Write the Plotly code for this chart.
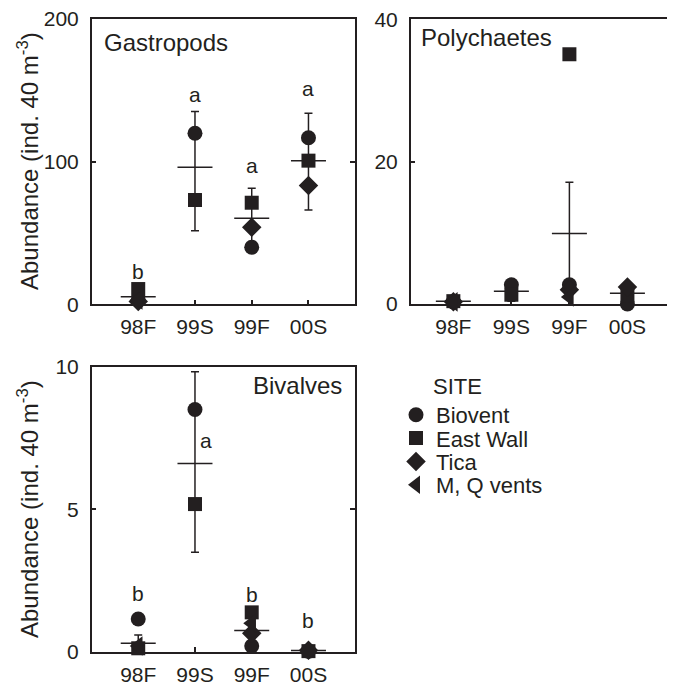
import plotly.graph_objects as go

# ---------------- data ----------------
categories = ["98F", "99S", "99F", "00S"]
sites = ["Biovent", "East Wall", "Tica", "M, Q vents"]
symbols = ["circle", "square", "diamond", "triangle-left"]
sizes = [15, 14, 15, 17]

# Gastropods
gas_biovent = [3, 119.9, 40, 116.8]
gas_eastwall = [10.7, 73.1, 71.2, 100.7]
gas_tica = [2, None, 54, 83.2]
gas_mq = [3, None, None, None]
gas_mean = [5.3, 96.1, 60.3, 100.7]
gas_err_plus = [0, 39, 21, 33.2]
gas_err_minus = [0, 44.5, 21, 34.6]
gas_letters = ["b", "a", "a", "a"]
gas_letter_y = [23, 147, 97, 151.5]

# Polychaetes
pol_biovent = [0.3, 2.7, 2.7, 0.0]
pol_eastwall = [0.4, 1.3, 35.1, 1.2]
pol_tica = [0.3, None, 2.0, 2.4]
pol_mq = [0.3, None, 1.0, None]
pol_mean = [0.4, 1.8, 9.9, 1.5]
pol_err_plus = [0, 1.4, 7.2, 0.9]
pol_err_minus = [0, 1.4, 7.2, 0.9]

# Bivalves
biv_biovent = [1.15, 8.5, 0.2, 0.02]
biv_eastwall = [0.12, 5.18, 1.38, 0.02]
biv_tica = [None, None, 0.65, 0.05]
biv_mq = [0.2, None, 1.0, None]
biv_mean = [0.3, 6.6, 0.74, 0.04]
biv_err_plus = [0.29, 3.22, 0, 0]
biv_err_minus = [0.29, 3.11, 0, 0]
biv_letters = ["b", "a", "b", "b"]
biv_letter_y = [2.05, 7.4, 2.0, 1.1]
biv_letter_dx = [0, 0.19, 0, 0]

y_title = "Abundance (ind. 40 m<sup>-3</sup>)"

# ---------------- styling ----------------
INK = "#231f20"
FONT = "Liberation Sans, Arial, Helvetica, sans-serif"
FS_TICK = 21
FS_LABEL = 24
FS_LEG = 22
FS_LET = 21
xpos = list(range(len(categories)))

fig = go.Figure()

panels = [
    ("x", "y", gas_mean, gas_err_plus, gas_err_minus,
     [gas_biovent, gas_eastwall, gas_tica, gas_mq], True),
    ("x2", "y2", pol_mean, pol_err_plus, pol_err_minus,
     [pol_biovent, pol_eastwall, pol_tica, pol_mq], False),
    ("x3", "y3", biv_mean, biv_err_plus, biv_err_minus,
     [biv_biovent, biv_eastwall, biv_tica, biv_mq], False),
]

legend_names = ["legend", "legend2", "legend3", "legend4"]

for xa, ya, mean, ep, em, site_vals, show in panels:
    fig.add_trace(go.Scatter(
        x=xpos, y=mean, xaxis=xa, yaxis=ya, mode="markers",
        marker=dict(symbol="line-ew", size=25, line=dict(width=1.5, color=INK), color=INK),
        error_y=dict(type="data", symmetric=False, array=ep, arrayminus=em,
                     color=INK, thickness=1.5, width=4),
        showlegend=False, cliponaxis=False, hoverinfo="skip"))
    for i, vals in enumerate(site_vals):
        fig.add_trace(go.Scatter(
            x=xpos, y=vals, xaxis=xa, yaxis=ya, mode="markers",
            name=sites[i],
            marker=dict(symbol=symbols[i], size=sizes[i], color=INK, line=dict(width=0)),
            showlegend=show, legend=legend_names[i], cliponaxis=False))

# ---------------- axes ----------------
def xax(domain, rng):
    return dict(domain=domain, range=rng, tickmode="array", tickvals=xpos,
                ticktext=categories, ticks="inside", ticklen=5, tickwidth=1.5,
                tickcolor=INK, showline=True, linecolor=INK, linewidth=1.5,
                mirror=True, showgrid=False, zeroline=False,
                tickfont=dict(family=FONT, size=FS_TICK, color=INK),
                ticklabelstandoff=3, ticklabeloverflow="allow")

def yax(domain, rng, tv):
    return dict(domain=domain, range=rng, tickmode="array", tickvals=tv,
                ticks="inside", ticklen=5, tickwidth=1.5, tickcolor=INK,
                showline=True, linecolor=INK, linewidth=1.5, mirror="ticks",
                showgrid=False, zeroline=False,
                tickfont=dict(family=FONT, size=FS_TICK, color=INK),
                ticklabelstandoff=7, ticklabeloverflow="allow")

# page body has an 8px margin: figure pixel = screen pixel - 8
OFF = 8
W, H = 675 - OFF, 685 - OFF
def px(x):
    return (x - OFF) / W
def py(y):
    return (H - (y - OFF)) / H

fig.update_layout(
    width=W, height=H, margin=dict(l=0, r=0, t=0, b=0, autoexpand=False),
    paper_bgcolor="white", plot_bgcolor="white",
    font=dict(family=FONT, size=FS_LABEL, color=INK),
    xaxis=xax([px(91.7), px(355)], [-0.82, 3.82]),
    yaxis=yax([py(304.3), py(19)], [0, 200], [0, 100, 200]),
    xaxis2=xax([px(410.7), 1.0], [-0.735, 3.82]),
    yaxis2=yax([py(304), py(19.4)], [0, 40], [0, 20, 40]),
    xaxis3=xax([px(91.7), px(355)], [-0.82, 3.82]),
    yaxis3=yax([py(651.7), py(366.7)], [0, 10], [0, 5, 10]),
)
fig.layout.xaxis2.anchor = "y2"
fig.layout.yaxis2.anchor = "x2"
fig.layout.xaxis3.anchor = "y3"
fig.layout.yaxis3.anchor = "x3"

# legends (one per site for tight spacing)
leg_y = [415, 438.3, 461.7, 485]
for i, ln in enumerate(legend_names):
    fig.layout[ln] = dict(x=px(396), y=py(leg_y[i]), xanchor="left", yanchor="middle",
                          bgcolor="rgba(0,0,0,0)", borderwidth=0,
                          font=dict(family=FONT, size=FS_LEG, color=INK),
                          itemwidth=30, tracegroupgap=0)

ann = []
for i, t in enumerate(gas_letters):
    ann.append(dict(x=xpos[i], y=gas_letter_y[i], xref="x", yref="y", text=t,
                    showarrow=False, font=dict(family=FONT, size=FS_LET, color=INK)))
for i, t in enumerate(biv_letters):
    ann.append(dict(x=xpos[i] + biv_letter_dx[i], y=biv_letter_y[i], xref="x3", yref="y3",
                    text=t, showarrow=False, xanchor="center",
                    font=dict(family=FONT, size=FS_LET, color=INK)))
ann.append(dict(x=px(102), y=py(43), xref="paper", yref="paper", text="Gastropods",
                xanchor="left", yanchor="middle", showarrow=False))
ann.append(dict(x=px(419), y=py(38), xref="paper", yref="paper", text="Polychaetes",
                xanchor="left", yanchor="middle", showarrow=False))
ann.append(dict(x=px(344), y=py(385), xref="paper", yref="paper", text="Bivalves",
                xanchor="right", yanchor="middle", showarrow=False))
ann.append(dict(x=px(28), y=py(161), xref="paper", yref="paper", text=y_title,
                textangle=-90, xanchor="center", yanchor="middle", showarrow=False))
ann.append(dict(x=px(28), y=py(509), xref="paper", yref="paper", text=y_title,
                textangle=-90, xanchor="center", yanchor="middle", showarrow=False))
ann.append(dict(x=px(431), y=py(386), xref="paper", yref="paper", text="SITE",
                xanchor="left", yanchor="middle", showarrow=False,
                font=dict(family=FONT, size=FS_LEG, color=INK)))
fig.update_layout(annotations=ann)

fig.write_html("out.html")
